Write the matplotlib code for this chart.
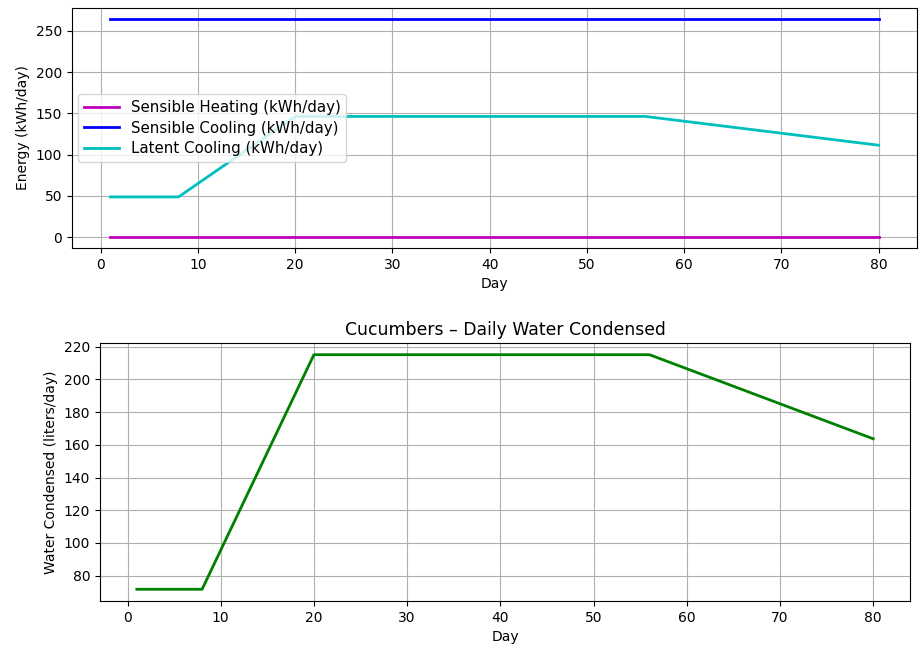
import matplotlib
matplotlib.use("Agg")
import matplotlib.pyplot as plt

# breakpoints of the daily profiles
days = [1, 8, 20, 56, 80]
sensible_heating = [0, 0, 0, 0, 0]
sensible_cooling = [264.5, 264.5, 264.5, 264.5, 264.5]
latent_cooling = [48.7, 48.7, 146.3, 146.3, 111.4]
water_condensed = [71.7, 71.7, 215.1, 215.1, 163.7]

fig = plt.figure(figsize=(9.21, 6.52), dpi=100)

ax1 = fig.add_axes([0.0782, 0.6196, 0.9175, 0.3681])
ax1.plot(days, sensible_heating, color="m", lw=2, label="Sensible Heating (kWh/day)")
ax1.plot(days, sensible_cooling, color="b", lw=2, label="Sensible Cooling (kWh/day)")
ax1.plot(days, latent_cooling, color="c", lw=2, label="Latent Cooling (kWh/day)")
ax1.set_xlabel("Day")
ax1.set_ylabel("Energy (kWh/day)")
ax1.grid(True)
ax1.legend(loc="center left", fontsize=10.8, labelspacing=0.35,
           handlelength=2.3, borderaxespad=0.4)

ax2 = fig.add_axes([0.1086, 0.0782, 0.8794, 0.3958])
ax2.plot(days, water_condensed, color="g", lw=2)
ax2.set_title("Cucumbers \u2013 Daily Water Condensed", fontsize=12.4)
ax2.set_xlabel("Day")
ax2.set_ylabel("Water Condensed (liters/day)")
ax2.grid(True)

fig.savefig("out.png", dpi=100)
